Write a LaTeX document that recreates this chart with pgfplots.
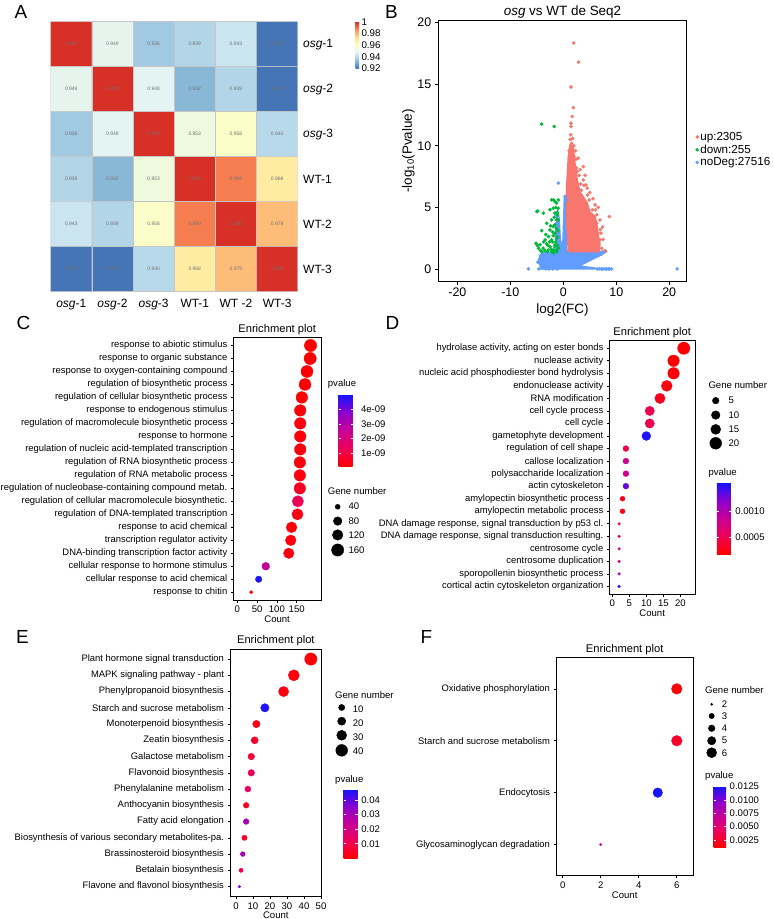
\documentclass[border=0pt]{standalone}
\usepackage{pgfplots}
\pgfplotsset{compat=1.18}
\usepackage{pgfplotstable}
\usepackage{fontspec}
\setmainfont{Liberation Sans}

\definecolor{vup}{RGB}{248,118,109}
\definecolor{vdown}{RGB}{0,186,56}
\definecolor{vno}{RGB}{97,156,255}

\newcommand{\fT}{\fontsize{9.6}{11}\selectfont}
\newcommand{\fY}{\fontsize{9.45}{11}\selectfont}
\newcommand{\fL}{\fontsize{19}{20}\selectfont}

\pgfplotsset{
  colormap={rdylbu}{rgb255(0cm)=(69,117,180); rgb255(1cm)=(145,191,219); rgb255(2cm)=(224,243,248); rgb255(3cm)=(255,255,191); rgb255(4cm)=(254,224,144); rgb255(5cm)=(252,141,89); rgb255(6cm)=(215,48,39)},
  colormap={rbp}{rgb255(0cm)=(255,0,0); rgb255(1cm)=(238,0,85); rgb255(2cm)=(200,0,150); rgb255(3cm)=(140,0,205); rgb255(4cm)=(20,20,255)},
  enr/.style={scale only axis, anchor=north west, y dir=reverse, clip=false,
    axis line style={black, line width=0.8bp},
    tick align=outside, tick pos=left, major tick length=2.5bp,
    tick style={black, line width=0.6bp},
    xticklabel style={font=\fT, text=black},
    yticklabel style={font=\fY, text=black},
    xlabel={Count}, xlabel style={font=\fT, yshift=4bp},
    title={Enrichment plot}, title style={font=\fontsize{11.2}{12}\selectfont, yshift=-6.5bp},
    colormap name=rbp},
  bub/.style={scatter, only marks, mark=*, point meta=explicit,
    scatter/use mapped color={draw=mapped color, fill=mapped color},
    visualization depends on={\thisrow{r}\as\rr},
    scatter/@pre marker code/.append style={/tikz/mark size=\rr bp}},
  leg/.style={scatter, only marks, mark=*,
    scatter/use mapped color={draw=black, fill=black},
    visualization depends on={\thisrow{r}\as\rr},
    scatter/@pre marker code/.append style={/tikz/mark size=\rr bp}},
  cbar/.style={scale only axis, axis line style={draw=none},
    yticklabel style={font=\fT}, major tick length=2.5bp, tick align=inside,
    ytick style={draw=white, line width=0.6bp}}
}

\pgfplotstableread{
x y v
0 0 1.000
1 0 0.949
2 0 0.936
3 0 0.939
4 0 0.943
5 0 0.920
0 1 0.949
1 1 1.000
2 1 0.948
3 1 0.932
4 1 0.939
5 1 0.919
0 2 0.936
1 2 0.948
2 2 1.000
3 2 0.953
4 2 0.958
5 2 0.940
0 3 0.939
1 3 0.932
2 3 0.953
3 3 1.000
4 3 0.989
5 3 0.968
0 4 0.943
1 4 0.939
2 4 0.958
3 4 0.989
4 4 1.000
5 4 0.979
0 5 0.920
1 5 0.919
2 5 0.940
3 5 0.968
4 5 0.979
5 5 1.000
}\dataA

\pgfplotstableread{
i c p r
1 185 0.10 6.15
2 184 0.10 6.13
3 176 0.12 6.01
4 171 0.12 5.93
5 163 0.15 5.81
6 159 0.20 5.74
7 159 0.25 5.74
8 159 0.20 5.74
9 159 0.25 5.74
10 158 0.25 5.73
11 158 0.30 5.73
12 158 0.60 5.73
13 153 1.30 5.64
14 152 0.40 5.62
15 137 0.20 5.36
16 135 0.30 5.32
17 130 0.30 5.23
18 72 2.60 3.89
19 54 4.90 3.25
20 35 0.20 1.65
}\dataC
\pgfplotstableread{
i c r
13.42 253.5 2.5
14.52 253.5 4.3
15.59 253.5 5.3
16.75 253.5 6.1
}\legC

\pgfplotstableread{
i c p r
1 21 2.0 6.15
2 18 2.0 5.75
3 18 2.2 5.75
4 16 2.3 5.45
5 14 3.0 5.15
6 11 5.0 4.65
7 11 5.0 4.65
8 10 15.0 4.45
9 4 4.5 2.9
10 4 8.0 2.9
11 4 8.0 2.9
12 4 13.0 2.9
13 3 2.8 2.45
14 3 2.8 2.45
15 2 4.5 1.35
16 2 4.0 1.35
17 2 7.0 1.35
18 2 7.0 1.35
19 2 10.5 1.35
20 2 14.5 1.35
}\dataD
\pgfplotstableread{
i c r
5.18 30.39 3.3
6.33 30.39 4.3
7.47 30.39 5.0
8.58 30.39 5.9
}\legD

\pgfplotstableread{
i c p r
1 44 0.10 6.15
2 34 0.15 5.55
3 28 0.20 5.1
4 17 4.60 4.2
5 12 0.30 3.7
6 11 0.60 3.55
7 9 0.80 3.3
8 9 1.20 3.3
9 7 1.40 3.0
10 6 0.50 2.85
11 6 3.00 2.85
12 5 0.50 2.65
13 4 3.10 2.4
14 3 1.00 2.1
15 2 3.80 1.35
}\dataE
\pgfplotstableread{
i c r
3.98 62.16 3.1
4.82 62.16 4.1
5.69 62.16 5.0
6.62 62.16 5.9
}\legE

\pgfplotstableread{
i c p r
1 6 1.3 5.3
2 6 2.6 5.3
3 5 12.5 4.8
4 2 7.0 1.2
}\dataF
\pgfplotstableread{
i c r
1.298 7.836 1.0
1.523 7.836 2.7
1.760 7.836 3.3
1.999 7.836 4.2
2.230 7.836 5.0
}\legF

\begin{document}
\begin{tikzpicture}
\useasboundingbox (0,0) rectangle (774bp,-919bp);

% ---------------- A: heatmap
\begin{axis}[at={(50.7bp,-21.7bp)}, anchor=north west, scale only axis,
  width=247bp, height=270bp,
  xmin=-0.5, xmax=5.5, ymin=-0.5, ymax=5.5, y dir=reverse,
  axis line style={draw=none}, major tick length=0pt,
  xtick={0,...,5}, ytick={0,...,5},
  xticklabels={{\textit{osg}-1},{\textit{osg}-2},{\textit{osg}-3},WT-1,WT -2,WT-3},
  yticklabels={{\textit{osg}-1},{\textit{osg}-2},{\textit{osg}-3},WT-1,WT-2,WT-3},
  yticklabel pos=right,
  ticklabel style={font=\fontsize{12}{13}\selectfont},
  xticklabel style={yshift=-4bp},
  yticklabel style={xshift=2bp},
  colormap name=rdylbu, point meta min=0.92, point meta max=1,
  colorbar,
  colorbar style={at={(parent axis.north west)}, anchor=north west, xshift=296.3bp,
    scale only axis, width=3.5bp, height=46.6bp, axis line style={draw=none},
    major tick length=0pt, ytick={0.92,0.94,0.96,0.98,1},
    yticklabels={0.92,0.94,0.96,0.98,1},
    yticklabel style={font=\fontsize{9.8}{10}\selectfont, xshift=-1bp}},
  nodes near coords={\pgfmathprintnumber[fixed,fixed zerofill,precision=3,assume math mode=true]{\pgfplotspointmeta}},
  every node near coord/.append style={font=\fontsize{5}{5}\selectfont, text=black!55, anchor=center}
]
\addplot[matrix plot, mesh/cols=6, point meta=explicit, draw=gray!45, line width=0.5bp] table[meta=v] {\dataA};
\end{axis}

% ---------------- B: volcano
\begin{axis}[at={(438.3bp,-20.7bp)}, anchor=north west, scale only axis,
  width=248.4bp, height=260.3bp,
  xmin=-23.6, xmax=23.3, ymin=-0.98, ymax=20.16,
  axis line style={black, line width=0.8bp},
  tick align=outside, tick pos=left, major tick length=3.5bp,
  tick style={black, line width=0.7bp},
  xtick={-20,-10,0,10,20}, xticklabels={-20,-10,0,10,20},
  ytick={0,5,10,15,20}, yticklabels={0,5,10,15,20},
  ticklabel style={font=\fontsize{12.5}{13}\selectfont},
  title={\textit{osg} vs WT de Seq2}, title style={font=\fontsize{13.5}{14}\selectfont, yshift=-7bp},
  xlabel={log2(FC)}, ylabel={-log\textsubscript{10}(Pvalue)},
  label style={font=\fontsize{13.5}{14}\selectfont},
  ylabel shift=-4bp,
  reverse legend,
  legend style={at={(1.035,0.588)}, anchor=north west, draw=none, fill=none,
    font=\fontsize{11.7}{13}\selectfont, row sep=-1bp, inner xsep=0pt,
    nodes={inner xsep=1.5bp}},
  legend image code/.code={\draw[#1] plot coordinates {(1bp,0bp)};},
  legend cell align=left
]
\addplot[fill=vno, draw=vno, line width=1.4bp, line join=round, forget plot] coordinates {
(-4.72,0.59) (-4.40,1.14) (-3.77,1.33) (-1.89,1.33) (-1.45,1.68) (-1.45,3.17)
(-1.26,4.25) (-1.07,4.8) (-0.75,3.98) (-0.57,2.36) (-0.31,1.82) (-0.06,2.36)
(0.06,3.98) (0.19,5.74) (0.50,5.88) (0.57,4.53) (0.63,1.54) (0.94,1.33)
(3.45,1.33) (5.97,1.33) (7.87,1.49) (8.18,1.41) (6.92,1.08) (5.03,0.68)
(3.77,0.41) (3.14,0.22) (6.0,0.08) (6.0,0.0) (-4.08,0.0) (-4.40,0.27)} -- cycle;
\addplot[only marks, mark=*, mark size=1.6bp, vno] coordinates {
(-6.6,0) (-4.6,0) (-4.0,0.05) (-3.3,0) (-2.7,0) (21.5,0) (-0.94,6.97)
(-4.0,0.9) (-4.5,0.75) (-4.8,0.55) (6.4,0) (6.8,0) (7.2,0) (7.5,0) (7.9,0) (8.2,0) (8.5,0) (8.7,0) (9.1,0)
(8.0,1.45) (7.2,1.2) (-1.2,4.35) (0.3,5.9) (0.55,5.6) (-1.0,3.9) (-2.0,0) (-1.2,0)};
\addlegendentry{noDeg:27516}
\addplot[only marks, mark=*, mark size=1.6bp, vdown] coordinates {
(-4.08,11.76) (-1.7,11.57)
(-1.89,5.61) (-1.58,5.47) (-1.26,5.34) (-1.89,4.93) (-4.83,4.71) (-3.77,4.53)
(-2.51,4.8) (-1.58,4.53) (-2.2,3.98) (-1.26,3.98) (-3.14,3.71) (-1.89,3.44)
(-4.08,3.11) (-2.51,3.17) (-1.58,2.9) (-2.8,2.63) (-3.43,2.36) (-2.2,2.36)
(-1.26,2.5) (-5.15,2.09) (-4.4,1.96) (-3.14,2.03) (-2.51,1.81) (-1.58,1.96)
(-3.77,1.68) (-4.7,1.68) (-2.83,1.54) (-1.89,1.54) (-0.94,1.68) (-4.08,1.41)
(-2.2,1.41) (-1.26,1.41) (-0.94,3.98) (-0.94,4.93) (-2.2,5.61) (-0.94,5.61)
(-5.0,4.66) (-1.3,1.5) (-1.6,1.8) (-2.0,2.2) (-2.3,1.6) (-1.1,2.6) (-1.3,3.3)
(-1.6,3.6) (-1.2,4.6) (-1.4,5.0) (-3.5,1.5) (-4.9,1.9) (-1.9,2.7) (-2.6,2.2)
(-3.0,1.4) (-2.0,3.0) (-1.7,4.2) (-3.3,2.8) (-1.1,1.9) (-1.0,3.1) (-1.4,2.2)
(-2.4,3.5) (-2.9,1.9) (-3.7,2.2) (-4.3,1.5) (-1.8,1.3) (-1.1,4.4)};
\addlegendentry{down:255}
\addplot[fill=vup, draw=vup, line width=1.4bp, line join=round, forget plot] coordinates {
(0.94,9.13) (1.26,10.08) (1.89,9.94) (2.2,8.6) (2.64,7.23) (3.14,6.28)
(3.77,5.88) (4.53,5.34) (5.03,4.66) (5.99,4.25) (6.3,3.71) (6.6,2.76)
(6.92,2.09) (6.79,1.41) (0.94,1.41) (0.63,3.98) (0.63,6.69)} -- cycle;
\addplot[only marks, mark=*, mark size=1.6bp, vup] coordinates {
(1.96,18.35) (2.9,16.8) (1.45,14.77) (1.9,13.1) (1.7,12.38) (1.45,11.84)
(1.45,11.57) (1.4,10.9) (1.57,10.2) (1.76,10.6) (2.0,9.13) (2.4,8.9) (2.6,7.9)
(3.15,8.05) (3.77,8.31) (4.1,7.6) (4.28,6.82) (4.53,6.55) (3.77,7.23) (3.3,6.9)
(5.99,5.2) (6.6,5.0) (4.9,5.6) (4.1,5.34) (8.68,4.25) (6.92,3.98) (6.3,3.7)
(5.99,3.3) (6.6,2.9) (6.92,2.36) (7.24,1.68) (7.87,1.47) (7.5,2.4) (7.0,3.2)
(5.5,4.8) (5.0,6.2) (3.0,7.6) (2.8,9.0) (2.3,9.6) (1.3,10.5) (6.3,4.4)
(7.4,3.4) (5.6,5.7) (4.6,6.0) (6.5,1.8) (7.1,2.9) (3.4,6.4) (2.0,10.0)
(1.1,9.6) (5.3,4.2) (2.5,8.2) (3.9,6.8) (4.4,5.0) (5.8,3.9) (6.1,4.8)};
\addlegendentry{up:2305}
\end{axis}

% ---------------- C
\begin{axis}[enr, at={(233.3bp,-337.7bp)}, width=87.7bp, height=262.3bp,
  xmin=-10.1, xmax=211.4, ymin=0.4, ymax=20.6,
  xtick={0,50,100,150}, xticklabels={0,50,100,150},
  ytick={1,...,20},
  yticklabels={response to abiotic stimulus, response to organic substance,
    response to oxygen-containing compound, regulation of biosynthetic process,
    regulation of cellular biosynthetic process, response to endogenous stimulus,
    regulation of macromolecule biosynthetic process, response to hormone,
    regulation of nucleic acid-templated transcription, regulation of RNA biosynthetic process,
    regulation of RNA metabolic process, regulation of nucleobase-containing compound metab.,
    regulation of cellular macromolecule biosynthetic., regulation of DNA-templated transcription,
    response to acid chemical, transcription regulator activity,
    DNA-binding transcription factor activity, cellular response to hormone stimulus,
    cellular response to acid chemical, response to chitin},
  point meta min=0.06, point meta max=5.03,
  colorbar,
  colorbar style={cbar, at={(parent axis.north west)}, anchor=north west,
    xshift=96.7bp, yshift=-56.6bp,
    width=15bp, height=72.4bp, ytick={1,2,3,4}, yticklabels={1e-09,2e-09,3e-09,4e-09},
    yticklabel style={xshift=4bp}}
]
\addplot[bub] table[x=c, y=i, meta=p] {\dataC};
\addplot[leg] table[x=c, y=i] {\legC};
\end{axis}
\node[anchor=west, inner sep=0pt, font=\fT] at (327.7bp,-384.3bp) {pvalue};
\node[anchor=west, inner sep=0pt, font=\fT] at (327.7bp,-491bp) {Gene number};
\node[anchor=west, inner sep=0pt, font=\fT] at (348.3bp,-506.7bp) {40};
\node[anchor=west, inner sep=0pt, font=\fT] at (348.3bp,-521bp) {80};
\node[anchor=west, inner sep=0pt, font=\fT] at (348.3bp,-535bp) {120};
\node[anchor=west, inner sep=0pt, font=\fT] at (348.3bp,-550bp) {160};

% ---------------- D
\begin{axis}[enr, at={(609.3bp,-340.7bp)}, width=85.7bp, height=253.3bp,
  xmin=-0.88, xmax=24.3, ymin=0.4, ymax=20.6,
  xtick={0,5,10,15,20}, xticklabels={0,5,10,15,20},
  ytick={1,...,20},
  yticklabels={{hydrolase activity, acting on ester bonds}, nuclease activity,
    nucleic acid phosphodiester bond hydrolysis, endonuclease activity, RNA modification,
    cell cycle process, cell cycle, gametophyte development, regulation of cell shape,
    callose localization, polysaccharide localization, actin cytoskeleton,
    amylopectin biosynthetic process, amylopectin metabolic process,
    {DNA damage response, signal transduction by p53 cl.},
    {DNA damage response, signal transduction resulting.},
    centrosome cycle, centrosome duplication, sporopollenin biosynthetic process,
    cortical actin cytoskeleton organization},
  point meta min=1.83, point meta max=15.38,
  colorbar,
  colorbar style={cbar, at={(parent axis.north west)}, anchor=north west,
    xshift=99bp, yshift=-142bp,
    width=15bp, height=71.3bp, ytick={5,10}, yticklabels={0.0005,0.0010}}
]
\addplot[bub] table[x=c, y=i, meta=p] {\dataD};
\addplot[leg] table[x=c, y=i] {\legD};
\end{axis}
\node[anchor=west, inner sep=0pt, font=\fT] at (708.3bp,-385bp) {Gene number};
\node[anchor=west, inner sep=0pt, font=\fT] at (728.3bp,-400.7bp) {5};
\node[anchor=west, inner sep=0pt, font=\fT] at (728.3bp,-415bp) {10};
\node[anchor=west, inner sep=0pt, font=\fT] at (728.3bp,-429.3bp) {15};
\node[anchor=west, inner sep=0pt, font=\fT] at (728.3bp,-443.3bp) {20};
\node[anchor=west, inner sep=0pt, font=\fT] at (708.3bp,-472.7bp) {pvalue};

% ---------------- E
\begin{axis}[enr, at={(230bp,-649.3bp)}, width=91.7bp, height=247bp,
  xmin=-3.5, xmax=50.4, ymin=0.4, ymax=15.6,
  xtick={0,10,20,30,40,50}, xticklabels={0,10,20,30,40,50},
  ytick={1,...,15},
  yticklabels={Plant hormone signal transduction, MAPK signaling pathway - plant,
    Phenylpropanoid biosynthesis, Starch and sucrose metabolism, Monoterpenoid biosynthesis,
    Zeatin biosynthesis, Galactose metabolism, Flavonoid biosynthesis,
    Phenylalanine metabolism, Anthocyanin biosynthesis, Fatty acid elongation,
    Biosynthesis of various secondary metabolites-pa., Brassinosteroid biosynthesis,
    Betalain biosynthesis, Flavone and flavonol biosynthesis},
  point meta min=0.0, point meta max=4.74,
  colorbar,
  colorbar style={cbar, at={(parent axis.north west)}, anchor=north west,
    xshift=105bp, yshift=-140bp,
    width=14.3bp, height=69bp, ytick={1,2,3,4}, yticklabels={0.01,0.02,0.03,0.04}}
]
\addplot[bub] table[x=c, y=i, meta=p] {\dataE};
\addplot[leg] table[x=c, y=i] {\legE};
\end{axis}
\node[anchor=west, inner sep=0pt, font=\fT] at (335bp,-695bp) {Gene number};
\node[anchor=west, inner sep=0pt, font=\fT] at (352.7bp,-709bp) {10};
\node[anchor=west, inner sep=0pt, font=\fT] at (352.7bp,-722.7bp) {20};
\node[anchor=west, inner sep=0pt, font=\fT] at (352.7bp,-736.7bp) {30};
\node[anchor=west, inner sep=0pt, font=\fT] at (352.7bp,-751.3bp) {40};
\node[anchor=west, inner sep=0pt, font=\fT] at (335bp,-780bp) {pvalue};

% ---------------- F
\begin{axis}[enr, at={(556bp,-657.7bp)}, width=137.3bp, height=218bp,
  xmin=-0.35, xmax=6.87, ymin=0.4, ymax=4.6,
  xtick={0,2,4,6}, xticklabels={0,2,4,6},
  ytick={1,...,4},
  yticklabels={Oxidative phosphorylation, Starch and sucrose metabolism, Endocytosis,
    Glycosaminoglycan degradation},
  point meta min=1.13, point meta max=12.6,
  colorbar,
  colorbar style={cbar, at={(parent axis.north west)}, anchor=north west,
    xshift=149bp, yshift=-128.3bp,
    width=12.7bp, height=61.3bp, ytick={2.5,5,7.5,10,12.5},
    yticklabels={0.0025,0.0050,0.0075,0.0100,0.0125}}
]
\addplot[bub] table[x=c, y=i, meta=p] {\dataF};
\addplot[leg] table[x=c, y=i] {\legF};
\end{axis}
\node[anchor=west, inner sep=0pt, font=\fT] at (705bp,-690bp) {Gene number};
\node[anchor=west, inner sep=0pt, font=\fT] at (721.7bp,-704.3bp) {2};
\node[anchor=west, inner sep=0pt, font=\fT] at (721.7bp,-716bp) {3};
\node[anchor=west, inner sep=0pt, font=\fT] at (721.7bp,-728.3bp) {4};
\node[anchor=west, inner sep=0pt, font=\fT] at (721.7bp,-740.7bp) {5};
\node[anchor=west, inner sep=0pt, font=\fT] at (721.7bp,-752.7bp) {6};
\node[anchor=west, inner sep=0pt, font=\fT] at (705bp,-775.7bp) {pvalue};

% panel letters
\node[font=\fL] at (21bp,-12bp) {A};
\node[font=\fL] at (391.5bp,-12bp) {B};
\node[font=\fL] at (23.5bp,-322.5bp) {C};
\node[font=\fL] at (392.5bp,-322.5bp) {D};
\node[font=\fL] at (22.5bp,-636.5bp) {E};
\node[font=\fL] at (426.5bp,-636.5bp) {F};
\end{tikzpicture}
\end{document}
